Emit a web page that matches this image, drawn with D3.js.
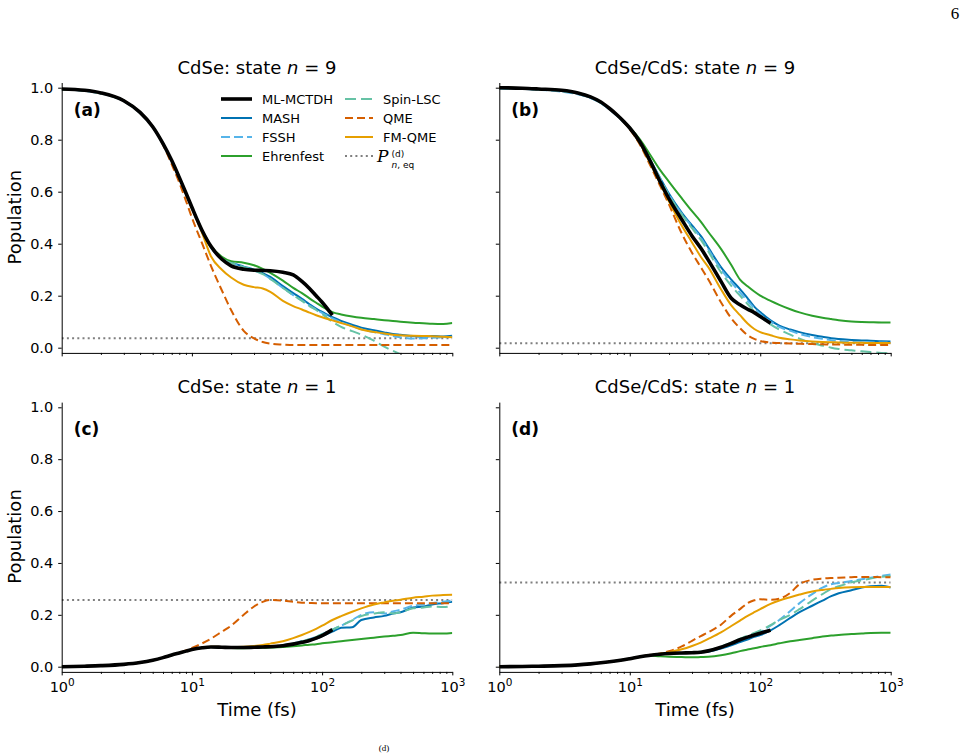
<!DOCTYPE html>
<html><head><meta charset="utf-8">
<script src="https://cdn.jsdelivr.net/npm/d3@7"></script>
<style>body{margin:0;background:#fff} svg{display:block}</style>
</head><body>
<svg id="chart" width="969" height="755"></svg>
<script>
// ---------------- DATA ----------------
const times = [1, 1.5, 2, 3, 4, 5, 6, 7, 8, 9, 10, 12, 14, 17, 20, 25, 30, 35, 40, 50, 60, 70, 80, 90, 100, 120, 140, 170, 200, 250, 300, 350, 400, 500, 600, 700, 850, 1000];
const methods = ["ML-MCTDH", "MASH", "FSSH", "Ehrenfest", "Spin-LSC", "QME", "FM-QME"];
const panelLabels = ["(a)", "(b)", "(c)", "(d)"];
const panelSystems = ["CdSe", "CdSe/CdS", "CdSe", "CdSe/CdS"];
const panelStates = ["9", "9", "1", "1"];
const eqValues = [0.036, 0.017, 0.257, 0.325];
const yTicks = [0.0, 0.2, 0.4, 0.6, 0.8, 1.0];
const xMajorTicks = [1, 10, 100, 1000];
const xMinorTicks = [2,3,4,5,6,7,8,9,20,30,40,50,60,70,80,90,200,300,400,500,600,700,800,900];

// (a) CdSe, n = 9
const a_MLMCTDH = [0.995,0.99,0.98,0.95,0.905,0.85,0.785,0.72,0.655,0.595,0.54,0.45,0.39,0.34,0.315,0.302,0.298,0.297,0.296,0.29,0.28,0.255,0.228,0.2,0.175,0.125,null,null,null,null,null,null,null,null,null,null,null,null];
const a_MASH = [0.995,0.99,0.98,0.95,0.905,0.85,0.785,0.72,0.655,0.595,0.54,0.45,0.388,0.345,0.328,0.312,0.3,0.287,0.272,0.237,0.21,0.188,0.167,0.15,0.138,0.117,0.103,0.088,0.077,0.067,0.059,0.053,0.05,0.045,0.042,0.045,0.043,0.046];
const a_FSSH = [0.993,0.988,0.978,0.948,0.903,0.848,0.783,0.718,0.653,0.593,0.538,0.448,0.386,0.343,0.326,0.31,0.297,0.283,0.265,0.23,0.202,0.182,0.162,0.147,0.134,0.113,0.098,0.083,0.071,0.06,0.052,0.045,0.04,0.035,0.036,0.038,0.04,0.042];
const a_Ehrenfest = [0.995,0.99,0.98,0.95,0.905,0.85,0.785,0.72,0.655,0.595,0.54,0.452,0.392,0.35,0.333,0.327,0.317,0.303,0.288,0.258,0.23,0.21,0.19,0.173,0.158,0.137,0.128,0.12,0.115,0.11,0.106,0.103,0.1,0.096,0.094,0.092,0.091,0.095];
const a_SpinLSC = [0.993,0.988,0.978,0.948,0.903,0.848,0.783,0.718,0.653,0.593,0.538,0.448,0.386,0.343,0.326,0.31,0.297,0.283,0.265,0.23,0.202,0.18,0.16,0.145,0.13,0.1,0.08,0.064,0.05,0.027,0.004,-0.012,-0.025,-0.045,-0.06,-0.07,-0.08,-0.09];
const a_QME = [0.995,0.99,0.98,0.95,0.905,0.85,0.78,0.705,0.635,0.565,0.5,0.4,0.315,0.22,0.145,0.065,0.036,0.022,0.016,0.012,0.01,0.01,0.01,0.01,0.01,0.01,0.01,0.01,0.01,0.01,0.01,0.01,0.01,0.01,0.01,0.01,0.01,0.01];
const a_FMQME = [0.995,0.99,0.98,0.95,0.905,0.85,0.785,0.72,0.655,0.592,0.535,0.44,0.352,0.3,0.27,0.242,0.233,0.228,0.215,0.18,0.16,0.147,0.135,0.125,0.117,0.105,0.095,0.082,0.07,0.06,0.055,0.05,0.048,0.046,0.045,0.044,0.042,0.04];

// (b) CdSe/CdS, n = 9
const b_MLMCTDH = [1.0,0.998,0.995,0.99,0.98,0.965,0.945,0.92,0.895,0.87,0.845,0.79,0.728,0.64,0.572,0.493,0.43,0.383,0.337,0.255,0.19,0.165,0.148,0.135,0.12,0.094,null,null,null,null,null,null,null,null,null,null,null,null];
const b_MASH = [0.998,0.996,0.993,0.987,0.977,0.962,0.942,0.918,0.893,0.868,0.843,0.79,0.732,0.655,0.592,0.52,0.47,0.43,0.385,0.31,0.262,0.225,0.19,0.158,0.137,0.105,0.085,0.07,0.06,0.049,0.042,0.036,0.033,0.03,0.028,0.027,0.025,0.024];
const b_FSSH = [0.997,0.995,0.992,0.985,0.975,0.96,0.94,0.916,0.891,0.866,0.841,0.788,0.73,0.652,0.588,0.515,0.465,0.423,0.378,0.302,0.252,0.212,0.18,0.152,0.13,0.1,0.08,0.065,0.053,0.041,0.034,0.029,0.026,0.022,0.021,0.02,0.02,0.02];
const b_Ehrenfest = [1.0,0.998,0.995,0.99,0.98,0.965,0.945,0.92,0.895,0.87,0.847,0.8,0.75,0.685,0.638,0.575,0.525,0.485,0.445,0.38,0.318,0.262,0.236,0.216,0.2,0.18,0.165,0.148,0.136,0.123,0.115,0.11,0.106,0.101,0.099,0.098,0.097,0.097];
const b_SpinLSC = [0.998,0.996,0.993,0.987,0.977,0.962,0.942,0.918,0.893,0.868,0.843,0.79,0.73,0.65,0.585,0.513,0.46,0.415,0.37,0.29,0.238,0.2,0.168,0.14,0.12,0.09,0.07,0.05,0.035,0.018,0.008,0.0,-0.005,-0.01,-0.014,-0.017,-0.02,-0.022];
const b_QME = [1.0,0.998,0.995,0.99,0.98,0.965,0.945,0.92,0.894,0.868,0.84,0.78,0.712,0.625,0.55,0.44,0.365,0.31,0.262,0.175,0.113,0.075,0.048,0.034,0.026,0.02,0.018,0.016,0.015,0.014,0.013,0.012,0.012,0.011,0.011,0.01,0.01,0.01];
const b_FMQME = [1.0,0.998,0.995,0.99,0.98,0.965,0.945,0.92,0.895,0.87,0.843,0.785,0.72,0.635,0.562,0.47,0.405,0.35,0.31,0.225,0.163,0.125,0.093,0.072,0.06,0.048,0.038,0.032,0.028,0.024,0.022,0.021,0.02,0.019,0.019,0.018,0.018,0.018];

// (c) CdSe, n = 1
const c_MLMCTDH = [0.0,0.002,0.004,0.009,0.016,0.025,0.035,0.045,0.053,0.06,0.066,0.073,0.076,0.075,0.074,0.074,0.075,0.076,0.077,0.081,0.087,0.094,0.101,0.11,0.12,0.143,null,null,null,null,null,null,null,null,null,null,null,null];
const c_MASH = [0.0,0.002,0.004,0.009,0.016,0.025,0.035,0.045,0.053,0.06,0.066,0.073,0.076,0.075,0.074,0.074,0.075,0.076,0.077,0.08,0.086,0.092,0.1,0.108,0.118,0.135,0.15,0.152,0.18,0.19,0.196,0.205,0.21,0.228,0.232,0.24,0.245,0.25];
const c_FSSH = [0.0,0.002,0.004,0.009,0.016,0.025,0.035,0.045,0.053,0.06,0.066,0.073,0.076,0.075,0.074,0.074,0.075,0.076,0.077,0.083,0.09,0.098,0.106,0.115,0.125,0.143,0.158,0.18,0.2,0.21,0.205,0.213,0.22,0.235,0.24,0.245,0.25,0.255];
const c_Ehrenfest = [0.0,0.002,0.004,0.009,0.016,0.025,0.035,0.045,0.053,0.06,0.066,0.073,0.076,0.074,0.072,0.071,0.072,0.073,0.074,0.076,0.079,0.082,0.085,0.087,0.09,0.094,0.098,0.103,0.107,0.112,0.116,0.119,0.122,0.131,0.129,0.128,0.128,0.13];
const c_SpinLSC = [0.0,0.002,0.004,0.009,0.016,0.025,0.035,0.045,0.053,0.06,0.066,0.073,0.076,0.075,0.074,0.074,0.075,0.076,0.077,0.083,0.09,0.098,0.106,0.115,0.125,0.143,0.158,0.178,0.195,0.205,0.21,0.205,0.21,0.225,0.228,0.232,0.23,0.235];
const c_QME = [0.0,0.002,0.004,0.009,0.016,0.025,0.035,0.045,0.054,0.063,0.072,0.09,0.108,0.135,0.158,0.2,0.232,0.25,0.257,0.255,0.25,0.247,0.246,0.245,0.245,0.245,0.245,0.245,0.245,0.245,0.245,0.245,0.245,0.245,0.245,0.245,0.245,0.245];
const c_FMQME = [0.0,0.002,0.004,0.009,0.016,0.025,0.035,0.045,0.053,0.06,0.066,0.073,0.077,0.076,0.076,0.077,0.08,0.084,0.089,0.098,0.11,0.122,0.134,0.146,0.158,0.18,0.195,0.212,0.225,0.24,0.248,0.254,0.258,0.266,0.27,0.274,0.276,0.277];

// (d) CdSe/CdS, n = 1
const d_MLMCTDH = [0.0,0.001,0.002,0.004,0.007,0.011,0.015,0.019,0.023,0.027,0.031,0.038,0.043,0.048,0.051,0.053,0.054,0.056,0.061,0.075,0.09,0.104,0.114,0.122,0.129,0.141,null,null,null,null,null,null,null,null,null,null,null,null];
const d_MASH = [0.0,0.001,0.002,0.004,0.007,0.011,0.015,0.019,0.023,0.027,0.031,0.038,0.043,0.048,0.05,0.052,0.053,0.055,0.058,0.07,0.082,0.095,0.105,0.115,0.122,0.14,0.16,0.188,0.21,0.235,0.255,0.272,0.283,0.295,0.305,0.31,0.312,0.305];
const d_FSSH = [0.0,0.001,0.002,0.004,0.007,0.011,0.015,0.019,0.023,0.027,0.031,0.038,0.043,0.048,0.051,0.053,0.054,0.056,0.061,0.075,0.09,0.105,0.115,0.124,0.133,0.158,0.18,0.215,0.245,0.28,0.305,0.318,0.323,0.33,0.337,0.343,0.35,0.355];
const d_Ehrenfest = [0.0,0.001,0.002,0.004,0.007,0.011,0.015,0.019,0.023,0.027,0.031,0.038,0.043,0.04,0.038,0.037,0.036,0.037,0.038,0.044,0.052,0.06,0.066,0.071,0.076,0.083,0.09,0.098,0.103,0.11,0.116,0.12,0.122,0.126,0.128,0.13,0.131,0.131];
const d_SpinLSC = [0.0,0.001,0.002,0.004,0.007,0.011,0.015,0.019,0.023,0.027,0.031,0.038,0.043,0.048,0.051,0.053,0.055,0.058,0.063,0.078,0.093,0.108,0.12,0.13,0.14,0.16,0.18,0.2,0.222,0.255,0.28,0.3,0.31,0.325,0.333,0.34,0.347,0.35];
const d_QME = [0.0,0.001,0.002,0.004,0.007,0.011,0.015,0.019,0.023,0.027,0.031,0.038,0.045,0.05,0.06,0.078,0.1,0.118,0.133,0.162,0.197,0.222,0.245,0.256,0.26,0.258,0.262,0.285,0.318,0.335,0.34,0.342,0.343,0.345,0.346,0.346,0.345,0.345];
const d_FMQME = [0.0,0.001,0.002,0.004,0.007,0.011,0.015,0.019,0.023,0.027,0.031,0.038,0.044,0.05,0.056,0.067,0.08,0.093,0.107,0.132,0.157,0.178,0.196,0.21,0.222,0.242,0.255,0.268,0.278,0.29,0.296,0.3,0.303,0.306,0.307,0.307,0.307,0.307];

const panelSeries = [
  [a_MLMCTDH, a_MASH, a_FSSH, a_Ehrenfest, a_SpinLSC, a_QME, a_FMQME],
  [b_MLMCTDH, b_MASH, b_FSSH, b_Ehrenfest, b_SpinLSC, b_QME, b_FMQME],
  [c_MLMCTDH, c_MASH, c_FSSH, c_Ehrenfest, c_SpinLSC, c_QME, c_FMQME],
  [d_MLMCTDH, d_MASH, d_FSSH, d_Ehrenfest, d_SpinLSC, d_QME, d_FMQME]
];

// ---------------- STYLE ----------------
const styles = {
  "ML-MCTDH": {color: "#000000", width: 3.6, dash: null},
  "MASH":     {color: "#0072B2", width: 2.0, dash: null},
  "FSSH":     {color: "#56B4E9", width: 2.0, dash: "9,4"},
  "Ehrenfest":{color: "#2ca02c", width: 2.0, dash: null},
  "Spin-LSC": {color: "#66c2a5", width: 2.0, dash: "11,5"},
  "QME":      {color: "#D55E00", width: 2.0, dash: "8,4"},
  "FM-QME":   {color: "#E69F00", width: 2.0, dash: null}
};
const drawOrder = [1, 2, 3, 4, 5, 6, 0];
const FONT = "'DejaVu Sans', sans-serif";
const SERIF = "'DejaVu Serif', serif";
const cols = [[61.7, 452.3], [499.3, 890.7]];
const rows = [[347.7, 87.7], [666.7, 407.3]];

const svg = d3.select("#chart");
svg.append("rect").attr("width", 969).attr("height", 755).attr("fill", "#fff");
const defs = svg.append("defs");

panelSeries.forEach((series, p) => {
  const col = p % 2, row = Math.floor(p / 2);
  const x = d3.scaleLog().domain([1, 1000]).range(cols[col]);
  const yUnit = d3.scaleLinear().domain([0, 1]).range(rows[row]);
  const y = d3.scaleLinear().domain([-0.02, 1.02]).range([yUnit(-0.02), yUnit(1.02)]);
  const g = svg.append("g");
  const cx = (cols[col][0] + cols[col][1]) / 2;

  defs.append("clipPath").attr("id", "clip" + p).append("rect")
    .attr("x", x(1)).attr("y", y(1.02)).attr("width", x(1000) - x(1)).attr("height", y(-0.02) - y(1.02));
  const plot = g.append("g").attr("clip-path", `url(#clip${p})`);

  plot.append("line").attr("x1", x(1)).attr("x2", x(1000))
    .attr("y1", y(eqValues[p])).attr("y2", y(eqValues[p]))
    .attr("stroke", "#7f7f7f").attr("stroke-width", 2).attr("stroke-dasharray", "2,3.2");

  const line = d3.line().defined(d => d[1] !== null)
    .x(d => x(d[0])).y(d => y(d[1])).curve(d3.curveMonotoneX);

  drawOrder.forEach(i => {
    const m = methods[i], st = styles[m];
    const pts = times.map((t, k) => [t, series[i][k]]);
    plot.append("path").datum(pts).attr("d", line)
      .attr("fill", "none").attr("stroke", st.color).attr("stroke-width", st.width)
      .attr("stroke-dasharray", st.dash).attr("stroke-linejoin", "round");
  });

  const yAxis = d3.axisLeft(y).tickValues(yTicks).tickSize(3.5).tickSizeOuter(0).tickPadding(5)
    .tickFormat(col === 0 ? d3.format(".1f") : () => "");
  const ya = g.append("g").attr("transform", `translate(${x(1)},0)`).call(yAxis);
  ya.selectAll("text").attr("font-family", FONT).attr("font-size", "14.5px").attr("fill", "#000");
  ya.select(".domain").attr("stroke", "#000").attr("stroke-width", 1);

  const baseY = y(-0.02);
  const xMinor = d3.axisBottom(x).tickValues(xMinorTicks).tickSize(2).tickSizeOuter(0).tickFormat(() => "");
  const xm = g.append("g").attr("transform", `translate(0,${baseY})`).call(xMinor);
  xm.select(".domain").remove();
  const xAxis = d3.axisBottom(x).tickValues(xMajorTicks).tickSize(3.5).tickSizeOuter(0).tickFormat(() => "");
  const xa = g.append("g").attr("transform", `translate(0,${baseY})`).call(xAxis);
  xa.select(".domain").attr("stroke", "#000").attr("stroke-width", 1);
  if (row === 1) {
    xa.selectAll(".tick").each(function(d) {
      const t = d3.select(this).append("text").attr("y", 20).attr("text-anchor", "middle")
        .attr("font-family", FONT).attr("font-size", "14.5px").attr("fill", "#000");
      t.append("tspan").text("10");
      t.append("tspan").attr("dy", "-6").attr("font-size", "10.5px").text(String(Math.round(Math.log10(d))));
    });
    svg.append("text").attr("x", cx).attr("y", 716).attr("text-anchor", "middle")
      .attr("font-family", FONT).attr("font-size", "18px").text("Time (fs)");
  }
  if (col === 0) {
    const ymid = (rows[row][0] + rows[row][1]) / 2 - 0.5;
    svg.append("text").attr("transform", `translate(21,${ymid}) rotate(-90)`)
      .attr("text-anchor", "middle").attr("font-family", FONT).attr("font-size", "18px").text("Population");
  }

  const title = svg.append("text").attr("x", cx).attr("y", rows[row][1] - 14).attr("text-anchor", "middle")
    .attr("font-family", FONT).attr("font-size", "18px");
  title.append("tspan").text(panelSystems[p] + ": state ");
  title.append("tspan").attr("font-style", "italic").text("n");
  title.append("tspan").text(" = " + panelStates[p]);

  svg.append("text").attr("x", x(1) + 12).attr("y", rows[row][1] + 28)
    .attr("font-family", FONT).attr("font-weight", "bold").attr("font-size", "17px").text(panelLabels[p]);

  if (p === 0) {
    const leg = svg.append("g");
    const colX = [[221, 252, 262], [345, 373, 383]];
    const rowY = [99, 118, 137, 156];
    const entries = methods.map(m => ({label: m, st: styles[m]}));
    entries.push({label: "eq", st: {color: "#7f7f7f", width: 2, dash: "2,3.2"}});
    entries.forEach((e, k) => {
      const c = Math.floor(k / 4), r = k % 4;
      const yy = rowY[r];
      leg.append("line").attr("x1", colX[c][0]).attr("x2", colX[c][1]).attr("y1", yy).attr("y2", yy)
        .attr("stroke", e.st.color).attr("stroke-width", e.st.width).attr("stroke-dasharray", e.st.dash);
      if (e.label !== "eq") {
        leg.append("text").attr("x", colX[c][2]).attr("y", yy + 4.6)
          .attr("font-family", FONT).attr("font-size", "13px").text(e.label);
      } else {
        const x0 = colX[c][2];
        leg.append("text").attr("x", x0 - 6).attr("y", yy + 6)
          .attr("font-family", SERIF).attr("font-style", "italic").attr("font-size", "17px").text("P");
        leg.append("text").attr("x", x0 + 8.5).attr("y", yy + 0.5)
          .attr("font-family", FONT).attr("font-size", "9px").text("(d)");
        const sub = leg.append("text").attr("x", x0 + 8.5).attr("y", yy + 12)
          .attr("font-family", FONT).attr("font-size", "9px");
        sub.append("tspan").attr("font-style", "italic").text("n");
        sub.append("tspan").text(", eq");
      }
    });
  }
});

svg.append("text").attr("x", 955).attr("y", 19).attr("text-anchor", "middle")
  .attr("font-family", "'Liberation Serif', serif").attr("font-size", "17px").text("6");
svg.append("text").attr("x", 384).attr("y", 751).attr("text-anchor", "middle")
  .attr("font-family", "'Liberation Serif', serif").attr("font-size", "9px").text("(d)");
</script>
</body></html>
